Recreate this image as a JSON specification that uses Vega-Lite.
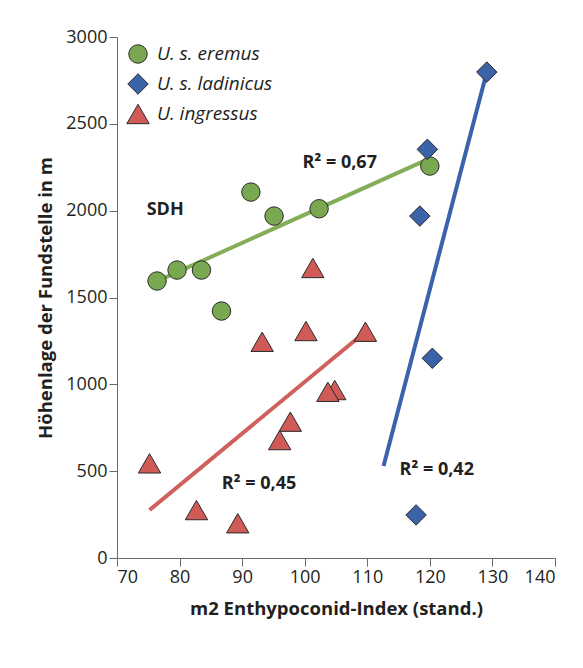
{
  "$schema": "https://vega.github.io/schema/vega-lite/v6.json",
  "width": 438,
  "height": 521,
  "autosize": {"type": "none"},
  "padding": {"left": 117, "top": 37, "right": 28, "bottom": 110},
  "background": "white",
  "config": {
    "view": {"stroke": null},
    "font": "Open Sans",
    "axis": {
      "grid": false,
      "domainColor": "#6b6b6b",
      "tickColor": "#6b6b6b",
      "domainWidth": 1,
      "tickWidth": 1,
      "tickSize": 8,
      "labelFont": "Open Sans",
      "labelFontSize": 18,
      "labelColor": "#231f20",
      "labelPadding": 2,
      "titleFont": "Open Sans",
      "titleFontSize": 18.5,
      "titleFontWeight": "bold",
      "titleColor": "#231f20"
    }
  },
  "datasets": {
    "points": [
      {"species": "U. s. eremus", "index": 76.4, "height": 1595},
      {"species": "U. s. eremus", "index": 79.6, "height": 1658},
      {"species": "U. s. eremus", "index": 83.5, "height": 1658},
      {"species": "U. s. eremus", "index": 86.7, "height": 1422},
      {"species": "U. s. eremus", "index": 91.4, "height": 2107},
      {"species": "U. s. eremus", "index": 95.1, "height": 1969},
      {"species": "U. s. eremus", "index": 102.3, "height": 2011},
      {"species": "U. s. eremus", "index": 120.0, "height": 2257},
      {"species": "U. s. ladinicus", "index": 129.1, "height": 2798},
      {"species": "U. s. ladinicus", "index": 119.6, "height": 2353},
      {"species": "U. s. ladinicus", "index": 118.4, "height": 1969},
      {"species": "U. s. ladinicus", "index": 120.4, "height": 1150},
      {"species": "U. s. ladinicus", "index": 117.8, "height": 248},
      {"species": "U. ingressus", "index": 101.3, "height": 1670},
      {"species": "U. ingressus", "index": 93.2, "height": 1245},
      {"species": "U. ingressus", "index": 100.2, "height": 1307},
      {"species": "U. ingressus", "index": 109.7, "height": 1303},
      {"species": "U. ingressus", "index": 104.8, "height": 967},
      {"species": "U. ingressus", "index": 103.7, "height": 957},
      {"species": "U. ingressus", "index": 97.7, "height": 785},
      {"species": "U. ingressus", "index": 96.0, "height": 679},
      {"species": "U. ingressus", "index": 75.2, "height": 545},
      {"species": "U. ingressus", "index": 82.7, "height": 276},
      {"species": "U. ingressus", "index": 89.3, "height": 200}
    ],
    "fits": [
      {"species": "U. s. eremus", "index": 77.4, "height": 1610},
      {"species": "U. s. eremus", "index": 120.0, "height": 2301},
      {"species": "U. s. ladinicus", "index": 112.6, "height": 530},
      {"species": "U. s. ladinicus", "index": 129.1, "height": 2798},
      {"species": "U. ingressus", "index": 75.2, "height": 276},
      {"species": "U. ingressus", "index": 109.7, "height": 1303}
    ],
    "labels": [
      {"label": "R² = 0,67", "index": 105.6, "height": 2274},
      {"label": "SDH", "index": 77.7, "height": 2003},
      {"label": "R² = 0,45", "index": 92.7, "height": 426},
      {"label": "R² = 0,42", "index": 121.1, "height": 507}
    ]
  },
  "layer": [
    {
      "data": {"name": "fits"},
      "transform": [{"filter": "datum.species === 'U. s. eremus'"}],
      "mark": {"type": "line", "strokeWidth": 4, "strokeCap": "butt", "color": "#84ad57"},
      "encoding": {
        "x": {"field": "index", "type": "quantitative"},
        "y": {"field": "height", "type": "quantitative"}
      }
    },
    {
      "data": {"name": "fits"},
      "transform": [{"filter": "datum.species === 'U. s. ladinicus'"}],
      "mark": {"type": "line", "strokeWidth": 4, "strokeCap": "butt", "color": "#3a62ad"},
      "encoding": {
        "x": {"field": "index", "type": "quantitative"},
        "y": {"field": "height", "type": "quantitative"}
      }
    },
    {
      "data": {"name": "fits"},
      "transform": [{"filter": "datum.species === 'U. ingressus'"}],
      "mark": {"type": "line", "strokeWidth": 4, "strokeCap": "butt", "color": "#d0605c"},
      "encoding": {
        "x": {"field": "index", "type": "quantitative"},
        "y": {"field": "height", "type": "quantitative"}
      }
    },
    {
      "data": {"name": "points"},
      "mark": {"type": "point", "filled": true, "opacity": 1, "stroke": "#2b2b2b", "strokeWidth": 1},
      "encoding": {
        "x": {
          "field": "index",
          "type": "quantitative",
          "scale": {"domain": [70, 140], "nice": false, "zero": false},
          "axis": {"values": [70, 80, 90, 100, 110, 120, 130, 140], "format": "d", "title": "m2 Enthypoconid-Index (stand.)", "titlePadding": 13}
        },
        "y": {
          "field": "height",
          "type": "quantitative",
          "scale": {"domain": [0, 3000], "nice": false},
          "axis": {"values": [0, 500, 1000, 1500, 2000, 2500, 3000], "format": "d", "title": "Höhenlage der Fundstelle in m", "titlePadding": 10}
        },
        "color": {
          "field": "species",
          "type": "nominal",
          "scale": {
            "domain": ["U. s. eremus", "U. s. ladinicus", "U. ingressus"],
            "range": ["#7aa851", "#3c62a8", "#cf5a56"]
          },
          "legend": {
            "title": null,
            "orient": "none",
            "legendX": 9,
            "legendY": 7,
            "labelFont": "Open Sans",
            "labelFontSize": 19,
            "labelFontStyle": "italic",
            "labelColor": "#231f20",
            "symbolSize": 430,
            "symbolStrokeColor": "#2b2b2b",
            "symbolStrokeWidth": 1,
            "rowPadding": 5,
            "labelOffset": 7
          }
        },
        "shape": {
          "field": "species",
          "type": "nominal",
          "scale": {
            "domain": ["U. s. eremus", "U. s. ladinicus", "U. ingressus"],
            "range": ["circle", "diamond", "triangle-up"]
          },
          "legend": {
            "title": null,
            "orient": "none",
            "legendX": 9,
            "legendY": 7,
            "labelFont": "Open Sans",
            "labelFontSize": 19,
            "labelFontStyle": "italic",
            "labelColor": "#231f20",
            "symbolSize": 430,
            "symbolStrokeColor": "#2b2b2b",
            "symbolStrokeWidth": 1,
            "rowPadding": 5,
            "labelOffset": 7
          }
        },
        "size": {
          "field": "species",
          "type": "nominal",
          "scale": {
            "domain": ["U. s. eremus", "U. s. ladinicus", "U. ingressus"],
            "range": [340, 500, 380]
          },
          "legend": null
        }
      }
    },
    {
      "data": {"name": "labels"},
      "mark": {"type": "text", "font": "Open Sans", "fontSize": 18, "fontWeight": "bold", "color": "#231f20"},
      "encoding": {
        "x": {"field": "index", "type": "quantitative"},
        "y": {"field": "height", "type": "quantitative"},
        "text": {"field": "label"}
      }
    }
  ]
}
